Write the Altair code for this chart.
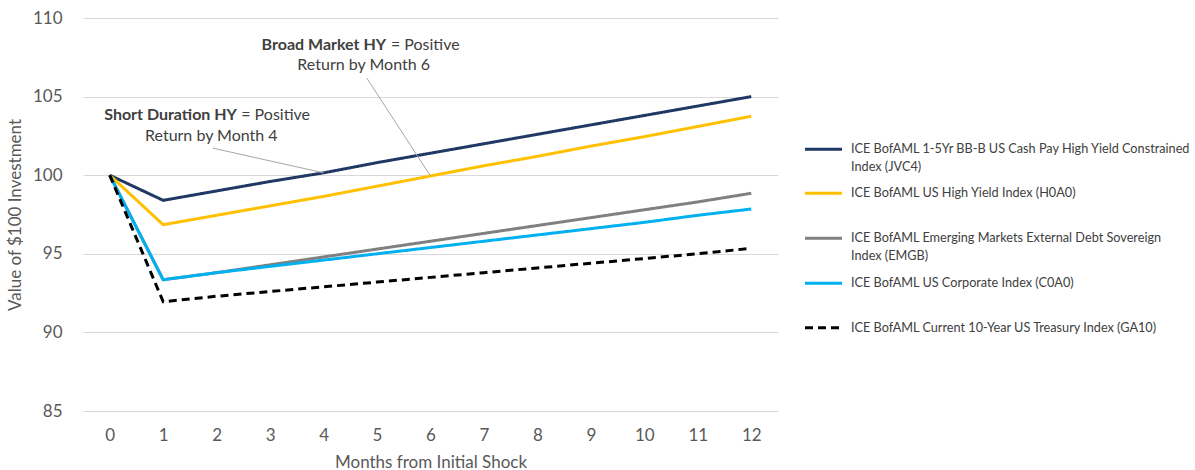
import altair as alt
import pandas as pd

# Months after the initial shock
months = list(range(13))

# Value of a $100 investment, by index
jvc4 = [100.0, 98.4, 99.0, 99.6, 100.15, 100.8, 101.4, 102.0, 102.6, 103.2, 103.8, 104.4, 105.0]
h0a0 = [100.0, 96.85, 97.45, 98.05, 98.65, 99.3, 99.95, 100.6, 101.2, 101.85, 102.45, 103.1, 103.75]
emgb = [100.0, 93.35, 93.8, 94.3, 94.8, 95.3, 95.8, 96.3, 96.8, 97.3, 97.8, 98.3, 98.85]
c0a0 = [100.0, 93.35, 93.8, 94.2, 94.6, 95.0, 95.4, 95.8, 96.2, 96.6, 97.0, 97.45, 97.85]
ga10 = [100.0, 91.95, 92.3, 92.6, 92.9, 93.2, 93.5, 93.8, 94.1, 94.4, 94.7, 95.0, 95.35]

series_values = [jvc4, h0a0, emgb, c0a0, ga10]
series_labels = [
    ["ICE BofAML 1-5Yr BB-B US Cash Pay High Yield Constrained", "Index (JVC4)"],
    ["ICE BofAML US High Yield Index (H0A0)"],
    ["ICE BofAML Emerging Markets External Debt Sovereign", "Index (EMGB)"],
    ["ICE BofAML US Corporate Index (C0A0)"],
    ["ICE BofAML Current 10-Year US Treasury Index (GA10)"],
]
series_colors = ["#1f3864", "#ffc000", "#808080", "#00b0f0", "#000000"]
series_dash = [[1, 0], [1, 0], [1, 0], [1, 0], [8, 5]]

y_ticks = [85, 90, 95, 100, 105, 110]

FONT = "Lato"
TEXT = "#404040"
AXIS_TEXT = "#595959"

W, H = 695, 393

x_scale = alt.Scale(domain=[-0.5, 12.5], nice=False, zero=False)
y_scale = alt.Scale(domain=[85, 110], nice=False, zero=False)

x_axis = alt.Axis(
    values=months, grid=False, domain=False, ticks=False, labelFontSize=17,
    labelColor=AXIS_TEXT, labelPadding=16, labelFont=FONT,
    title="Months from Initial Shock", titleFont=FONT, titleFontSize=17,
    titleFontWeight="normal", titleColor=AXIS_TEXT, titlePadding=11,
)
y_axis = alt.Axis(
    values=y_ticks, grid=True, gridColor="#d9d9d9", gridWidth=1, domain=False,
    ticks=False, labelFontSize=17, labelColor=AXIS_TEXT, labelPadding=21,
    labelFont=FONT, title="Value of $100 Investment", titleFont=FONT,
    titleFontSize=17, titleFontWeight="normal", titleColor=AXIS_TEXT,
    titlePadding=8,
)

layers = []
for i, vals in enumerate(series_values):
    d = pd.DataFrame({"month": months, "value": vals})
    layers.append(
        alt.Chart(d).mark_line(
            color=series_colors[i], strokeWidth=3, strokeDash=series_dash[i],
            strokeCap="butt", strokeJoin="miter",
        ).encode(
            x=alt.X("month:Q", scale=x_scale, axis=x_axis),
            y=alt.Y("value:Q", scale=y_scale, axis=y_axis),
        )
    )

# Callout leader lines (from text to the line they point at)
leaders = pd.DataFrame({
    "x": [1.93, 4.81],
    "y": [101.72, 106.17],
    "x2": [4, 6],
    "y2": [jvc4[4], h0a0[6]],
})
leader_layer = alt.Chart(leaders).mark_rule(color="#a6a6a6", strokeWidth=1).encode(
    x=alt.X("x:Q", scale=x_scale), y=alt.Y("y:Q", scale=y_scale),
    x2="x2:Q", y2="y2:Q",
)

# Callout text: bold heading, regular remainder, centred second line
bold_txt = pd.DataFrame({"x": [2.38, 5.17], "y": [103.82, 108.27],
                         "t": ["Short Duration HY", "Broad Market HY"]})
reg_txt = pd.DataFrame({"x": [2.46, 5.26], "y": [103.82, 108.27],
                        "t": ["= Positive", "= Positive"]})
sub_txt = pd.DataFrame({"x": [1.90, 4.75], "y": [102.48, 107.0],
                        "t": ["Return by Month 4", "Return by Month 6"]})

def text_layer(d, align, weight):
    return alt.Chart(d).mark_text(
        align=align, baseline="middle", font=FONT, fontSize=16,
        fontWeight=weight, color=TEXT,
    ).encode(
        x=alt.X("x:Q", scale=x_scale), y=alt.Y("y:Q", scale=y_scale), text="t:N"
    )

layers += [
    leader_layer,
    text_layer(bold_txt, "right", "bold"),
    text_layer(reg_txt, "left", "normal"),
    text_layer(sub_txt, "center", "normal"),
]

# Legend drawn to the right of the plot
one = alt.Data(values=[{}])
legend_rows = [131.3, 175.3, 220.3, 265.3, 309.7]
line_gap = 17.4
for i, row in enumerate(legend_rows):
    layers.append(
        alt.Chart(one).mark_rule(
            color=series_colors[i], strokeWidth=3, strokeDash=series_dash[i],
            strokeCap="butt",
        ).encode(x=alt.value(722), x2=alt.value(759), y=alt.value(row), y2=alt.value(row))
    )
    for j, line in enumerate(series_labels[i]):
        layers.append(
            alt.Chart(one).mark_text(
                align="left", baseline="middle", font=FONT, fontSize=12.7,
                color=TEXT, text=line,
            ).encode(x=alt.value(768), y=alt.value(row + j * line_gap))
        )

chart = alt.layer(*layers).properties(
    width=W, height=H,
    autosize=alt.AutoSizeParams(type="none"),
    padding={"left": 83, "top": 18, "right": 417, "bottom": 59},
    background="white",
).configure_view(stroke=None)

chart.save("out.html", embed_options={"renderer": "svg", "actions": False})
